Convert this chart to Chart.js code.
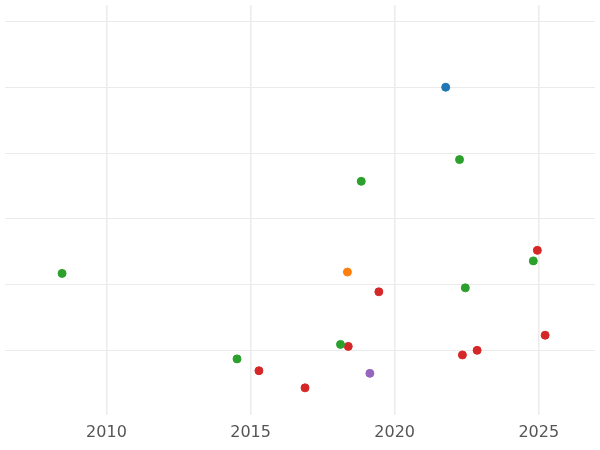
<!DOCTYPE html><html><head><script src="https://cdn.jsdelivr.net/npm/chart.js@4"></script>
<style>body{margin:0}#w{width:600px;height:450px}</style></head><body><div id="w"><canvas id="c"></canvas></div>
<script>
const blueX=[2021.77], blueY=[4.0];
const greenX=[2022.25,2018.84,2024.81,2008.46,2022.45,2018.12,2014.53];
const greenY=[2.90,2.57,1.36,1.17,0.95,0.09,-0.13];
const orangeX=[2018.36], orangeY=[1.19];
const redX=[2024.95,2019.45,2025.22,2018.39,2022.86,2022.35,2015.29,2016.89];
const redY=[1.52,0.89,0.23,0.06,0.0,-0.07,-0.31,-0.57];
const purpleX=[2019.14], purpleY=[-0.35];
const xTicks=[2010,2015,2020,2025];
const yTicks=[0,1,2,3,4,5];
const pts=(xs,ys)=>xs.map((x,i)=>({x,y:ys[i]}));
const ds=(xs,ys,c)=>({data:pts(xs,ys),backgroundColor:c,borderColor:c,pointRadius:4,pointHoverRadius:4});
new Chart(document.getElementById('c'),{type:'scatter',
data:{datasets:[ds(blueX,blueY,'#1f77b4'),ds(greenX,greenY,'#2ca02c'),ds(orangeX,orangeY,'#ff7f0e'),ds(redX,redY,'#d62728'),ds(purpleX,purpleY,'#9467bd')]},
options:{responsive:true,maintainAspectRatio:false,animation:false,layout:{padding:{left:-5,right:-5,top:-5,bottom:0}},
plugins:{legend:{display:false},tooltip:{enabled:false}},
scales:{
x:{type:'linear',min:2006.48,max:2026.95,border:{display:false},
afterBuildTicks:a=>{a.ticks=xTicks.map(v=>({value:v}))},
grid:{color:'#ebebeb',lineWidth:1.5,drawTicks:false},
ticks:{color:'#555',font:{family:'DejaVu Sans',size:16},padding:8,callback:v=>String(v)}},
y:{min:-0.98,max:5.25,border:{display:false},
afterBuildTicks:a=>{a.ticks=yTicks.map(v=>({value:v}))},
grid:{color:'#ebebeb',lineWidth:1,drawTicks:false},
ticks:{display:false}}}}});
</script></body></html>
